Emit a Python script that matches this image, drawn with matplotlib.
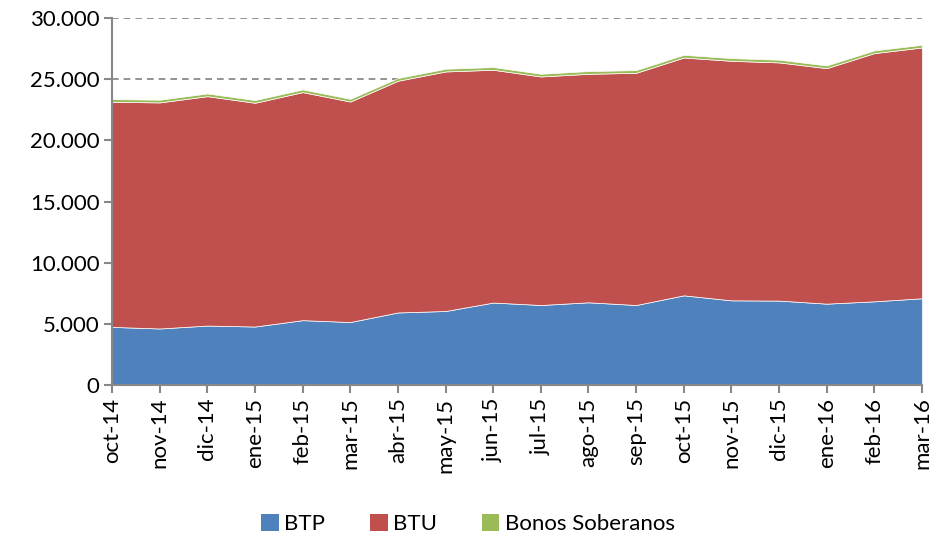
import matplotlib
matplotlib.use("Agg")
import matplotlib.pyplot as plt
from matplotlib.ticker import FuncFormatter, MultipleLocator
from matplotlib.patches import Patch
import numpy as np

months = ["oct-14", "nov-14", "dic-14", "ene-15", "feb-15", "mar-15", "abr-15", "may-15", "jun-15",
          "jul-15", "ago-15", "sep-15", "oct-15", "nov-15", "dic-15", "ene-16", "feb-16", "mar-16"]
btp = [4750, 4620, 4860, 4780, 5300, 5150, 5930, 6050, 6740,
       6540, 6760, 6540, 7330, 6920, 6900, 6650, 6840, 7090]
btu = [18400, 18480, 18750, 18290, 18640, 18020, 18940, 19580, 19030,
       18680, 18680, 18980, 19440, 19580, 19470, 19250, 20290, 20500]
bonos = [220, 220, 220, 220, 220, 220, 220, 220, 220,
         220, 220, 220, 220, 220, 220, 220, 220, 220]

plt.rcParams['font.family'] = ['Lato', 'DejaVu Sans']

fig = plt.figure(figsize=(9.36, 5.36), dpi=100)
ax = fig.add_axes([0.1197, 0.2817, 0.8653, 0.6847])

x = np.arange(len(months))
colors = ["#4F81BD", "#C0504D", "#9BBB59"]
ax.stackplot(x, btp, btu, bonos, colors=colors, edgecolor="white", linewidth=0.5, zorder=2)

ax.set_xlim(0, len(months) - 1)
ax.set_ylim(0, 30000)
ax.yaxis.set_major_locator(MultipleLocator(5000))
ax.yaxis.set_major_formatter(FuncFormatter(lambda v, p: f"{int(v):,}".replace(",", ".")))
ax.set_xticks(x)
ax.set_xticklabels(months, rotation=90, fontsize=16)
for lab in ax.get_yticklabels():
    lab.set_fontsize(16)

ax.grid(axis="y", color="#808080", linestyle=(0, (4, 3)), linewidth=1.2, zorder=0)
ax.set_axisbelow(True)
for s in ["top", "right"]:
    ax.spines[s].set_visible(False)
for s in ["left", "bottom"]:
    ax.spines[s].set_color("#888888")
    ax.spines[s].set_linewidth(1.5)
    ax.spines[s].set_zorder(3)
ax.tick_params(axis="both", direction="out", color="#888888", width=1.5, length=6, pad=3)

handles = [Patch(facecolor=c, edgecolor="none") for c in colors]
fig.legend(handles, ["BTP", "BTU", "Bonos Soberanos"], loc="center", bbox_to_anchor=(0.5, 0.022),
           ncol=3, frameon=False, fontsize=16, handlelength=0.8, handleheight=0.8,
           handletextpad=0.25, columnspacing=2.0)

fig.savefig("out.png", dpi=100)
